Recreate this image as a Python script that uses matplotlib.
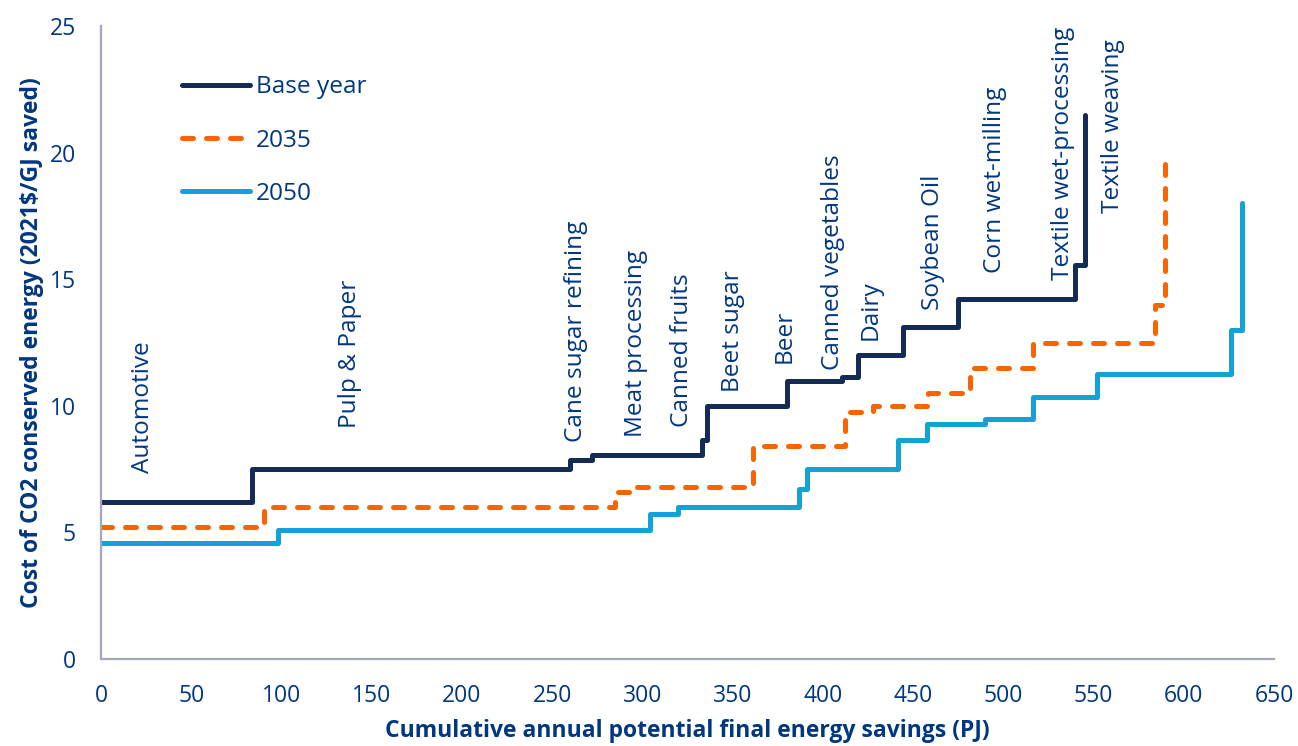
import matplotlib
matplotlib.use("Agg")
import matplotlib.pyplot as plt

# ---------------- data ----------------
base_x = [0, 83.5, 259.8, 271.9, 332.8, 335.6, 379.9, 410.4, 419.6, 444.5, 475.0, 540.0, 545.2]
base_y = [6.2, 7.5, 7.85, 8.05, 8.65, 10.0, 11.0, 11.15, 12.0, 13.1, 14.2, 15.55, 21.5]

y2035_x = [0, 90.3, 284.8, 295.0, 361.2, 412.2, 427.7, 458.2, 481.4, 516.3, 583.9, 589.5]
y2035_y = [5.2, 6.0, 6.6, 6.8, 8.4, 9.74, 10.0, 10.5, 11.5, 12.5, 14.0, 19.55]

y2050_x = [0, 98.2, 304.2, 319.7, 386.7, 391.1, 441.6, 457.6, 489.8, 516.3, 551.8, 626.4, 632.0]
y2050_y = [4.6, 5.1, 5.73, 6.0, 6.7, 7.5, 8.66, 9.28, 9.47, 10.35, 11.25, 13.0, 18.0]

series_names = ["Base year", "2035", "2050"]

sectors = ["Automotive", "Pulp & Paper", "Cane sugar refining", "Meat processing",
           "Canned fruits", "Beet sugar", "Beer", "Canned vegetables", "Dairy",
           "Soybean Oil", "Corn wet-milling", "Textile wet-processing", "Textile weaving"]
# label anchors (x = centre, y = bottom of rotated text), data units
label_x = [23.1, 137.9, 263.2, 296.7, 321.7, 350.3, 378.9, 405.4, 426.6, 461.1, 495.3, 533.1, 560.8]
label_y = [7.33, 9.11, 8.58, 8.78, 9.17, 10.55, 11.68, 11.41, 12.6, 13.78, 15.23, 14.97, 17.6]

x_ticks = list(range(0, 651, 50))
y_ticks = [0, 5, 10, 15, 20, 25]

# ---------------- style ----------------
plt.rcParams['font.family'] = ['Open Sans', 'DejaVu Sans']
TXT = '#003781'
NAVY = '#132B55'
ORANGE = '#FA6400'
LBLUE = '#14A2D6'
SPINE = '#A3A7BE'
FS = 16.5
FS_TXT = 17.6

fig = plt.figure(figsize=(12.98, 7.46), dpi=100)
ax = fig.add_axes([0.0778, 0.1166, 0.9037, 0.8485])

lw = 3.6
ax.step(base_x, base_y, where='post', color=NAVY, lw=lw, solid_joinstyle='round',
        solid_capstyle='round', label=series_names[0])
l2, = ax.step(y2035_x, y2035_y, where='post', color=ORANGE, lw=lw, label=series_names[1],
              dash_capstyle='round', dash_joinstyle='round')
l2.set_dashes((2.2, 2.6))
ax.step(y2050_x, y2050_y, where='post', color=LBLUE, lw=lw, solid_joinstyle='round',
        solid_capstyle='round', label=series_names[2])

for name, lx, ly in zip(sectors, label_x, label_y):
    ax.text(lx, ly, name, rotation=90, ha='center', va='bottom', color=TXT, fontsize=FS_TXT)

ax.set_xlim(0, 650)
ax.set_ylim(0, 25)
ax.set_xticks(x_ticks)
ax.set_yticks(y_ticks)
ax.tick_params(axis='both', length=0, labelsize=FS, labelcolor=TXT)
ax.tick_params(axis='x', pad=18)
ax.tick_params(axis='y', pad=18)
for s in ['top', 'right']:
    ax.spines[s].set_visible(False)
for s in ['left', 'bottom']:
    ax.spines[s].set_color(SPINE)
    ax.spines[s].set_linewidth(1.6)

ax.set_xlabel('Cumulative annual potential final energy savings (PJ)', fontsize=FS,
              fontweight='bold', color=TXT, labelpad=8)
ax.set_ylabel('Cost of CO2 conserved energy (2021$/GJ saved)', fontsize=FS,
              fontweight='bold', color=TXT, labelpad=4)

leg = ax.legend(loc='upper left', bbox_to_anchor=(0.05, 0.957), frameon=False,
                fontsize=FS_TXT, handlelength=2.8, handletextpad=0.25, labelspacing=1.2,
                labelcolor=TXT)

fig.savefig('out.png', dpi=100)
